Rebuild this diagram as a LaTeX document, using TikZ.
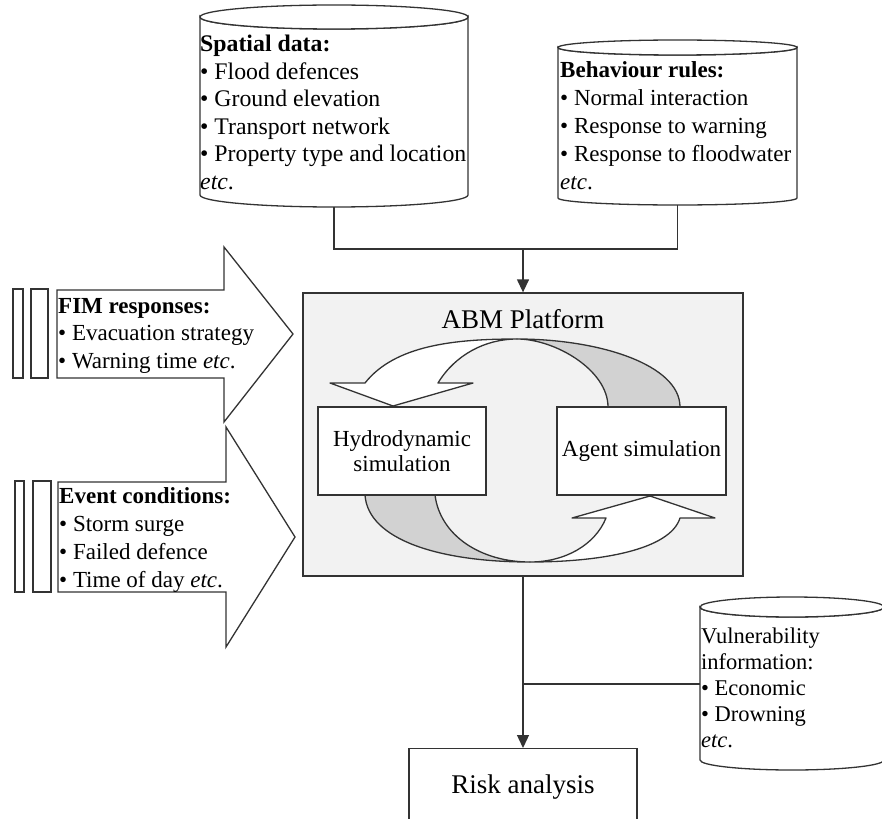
\documentclass[tikz,border=0pt]{standalone}
\usepackage{fontspec}
\setmainfont{Liberation Serif}
\usetikzlibrary{arrows.meta}

\definecolor{linegray}{HTML}{333333}
\definecolor{platformfill}{HTML}{F2F2F2}
\definecolor{ribbongray}{HTML}{D2D2D2}

% a left-aligned block of lines whose first baseline is the node's base
\newcommand{\stackedlines}[1]{\parbox[t]{330pt}{\raggedright #1}}

\tikzset{
  line/.style={draw=linegray, line width=1.3pt},
  flow/.style={line, -{Triangle[width=12pt,length=13pt]}},
  blocktext/.style={anchor=base west, inner sep=0pt},
  simbox/.style={line, fill=white, minimum height=88pt, inner sep=0pt, align=center,
                 font=\fontsize{23}{25}\selectfont},
  ribbonwhite/.style={line, fill=white, line join=round},
  ribbonback/.style={line, fill=ribbongray, line join=round},
}

\begin{document}
\begin{tikzpicture}[x=1pt,y=-1pt]
\useasboundingbox (0,0) rectangle (882,818);
\clip (0,0) rectangle (882,818);

% ---- data stores (cylinders) ----
% spatial data
\draw[line, fill=white] (200,17) -- (200,195) arc[start angle=180, end angle=0, x radius=134, y radius=12]
      -- (468,17) arc[start angle=0, end angle=180, x radius=134, y radius=12] -- cycle;
\draw[line, fill=white] (334,17) ellipse[x radius=134, y radius=12];
\node[blocktext, font=\fontsize{23.8}{27.5}\selectfont] (spatial) at (200,52) {\stackedlines{%
  \textbf{Spatial data:}\\
  • Flood defences\\
  • Ground elevation\\
  • Transport network\\
  • Property type and location\\
  \textit{etc}.}};
\coordinate (spatialbottom) at (334,207);

% behaviour rules
\draw[line, fill=white] (558,47.5) -- (558,198) arc[start angle=180, end angle=0, x radius=119.5, y radius=7]
      -- (797,47.5) arc[start angle=0, end angle=180, x radius=119.5, y radius=7.5] -- cycle;
\draw[line, fill=white] (677.5,47.5) ellipse[x radius=119.5, y radius=7.5];
\node[blocktext, font=\fontsize{23}{27.8}\selectfont] (behaviour) at (560,78) {\stackedlines{%
  \textbf{Behaviour rules:}\\
  • Normal interaction\\
  • Response to warning\\
  • Response to floodwater\\
  \textit{etc}.}};
\coordinate (behaviourbottom) at (677.5,205);

% vulnerability information
\draw[line, fill=white] (700,607) -- (700,760) arc[start angle=180, end angle=0, x radius=92, y radius=10]
      -- (884,607) arc[start angle=0, end angle=180, x radius=92, y radius=10] -- cycle;
\draw[line, fill=white] (792,607) ellipse[x radius=92, y radius=10];
\node[blocktext, font=\fontsize{22.5}{26.2}\selectfont] (vulnerability) at (701,643) {\stackedlines{%
  Vulnerability\\
  information:\\
  • Economic\\
  • Drowning\\
  \textit{etc}.}};
\coordinate (vulnerabilityleft) at (700,684);

% ---- input arrows on the left ----
\draw[line] (13,289) rectangle (23,378);
\draw[line] (31,289) rectangle (48,378);
\draw[line, fill=white] (57,290) -- (224,290) -- (224,247) -- (293,334) -- (224,422)
      -- (224,378) -- (57,378) -- cycle;
\node[blocktext, font=\fontsize{23}{27.5}\selectfont] (fim) at (58,313) {\stackedlines{%
  \textbf{FIM responses:}\\
  • Evacuation strategy\\
  • Warning time \textit{etc}.}};

\draw[line] (15,481) rectangle (24,592);
\draw[line] (33,481) rectangle (51,592);
\draw[line, fill=white] (58,482) -- (226,482) -- (226,427) -- (295,537) -- (226,647)
      -- (226,592) -- (58,592) -- cycle;
\node[blocktext, font=\fontsize{23}{28}\selectfont] (event) at (59,503) {\stackedlines{%
  \textbf{Event conditions:}\\
  • Storm surge\\
  • Failed defence\\
  • Time of day \textit{etc}.}};

% ---- ABM platform ----
\node[line, fill=platformfill, minimum width=440pt, minimum height=283pt, inner sep=0pt]
  (abm) at (523,434.5) {};
\node[anchor=base, inner sep=0pt, font=\fontsize{27}{30}\selectfont] (abmtitle) at (523,328) {ABM Platform};

% twisted ribbon arrows forming the simulation loop
\path[ribbonwhite] (517,339) .. controls (455,339) and (395,345) .. (365,383)
      -- (330,383) -- (393,406) -- (473,383) -- (438,383)
      .. controls (455,355) and (485,339) .. (517,339) -- cycle;
\path[ribbonback] (517,339) .. controls (600,339) and (680,365) .. (680,407)
      -- (608,407) .. controls (608,370) and (555,339) .. (517,339) -- cycle;
\path[ribbonback] (365,495) .. controls (368,540) and (440,562) .. (530,562)
      .. controls (480,562) and (440,535) .. (435,495) -- cycle;
\path[ribbonwhite] (530,562) .. controls (600,562) and (670,550) .. (680,518)
      -- (715,518) -- (650,496) -- (572,518) -- (606,518)
      .. controls (595,545) and (565,562) .. (530,562) -- cycle;

\node[simbox, minimum width=168pt] (hydro) at (402,451) {Hydrodynamic\\simulation};
\node[simbox, minimum width=169pt] (agent) at (641.5,451) {Agent simulation};

% ---- risk analysis ----
\node[line, fill=white, anchor=north, minimum width=228pt, minimum height=100pt, inner sep=0pt]
  (risk) at (523,748) {};
\node[anchor=base, inner sep=0pt, font=\fontsize{27}{30}\selectfont] (risktext) at (523,793) {Risk analysis};

% ---- connectors ----
\coordinate (datajoin) at (523,249);
\draw[line] (spatialbottom) |- (datajoin) -| (behaviourbottom);
\draw[flow] (datajoin) -- (abm.north);
\coordinate (riskjoin) at (523,684);
\draw[flow] (abm.south) -- (risk.north);
\draw[line] (vulnerabilityleft) -- (riskjoin);
\end{tikzpicture}
\end{document}
